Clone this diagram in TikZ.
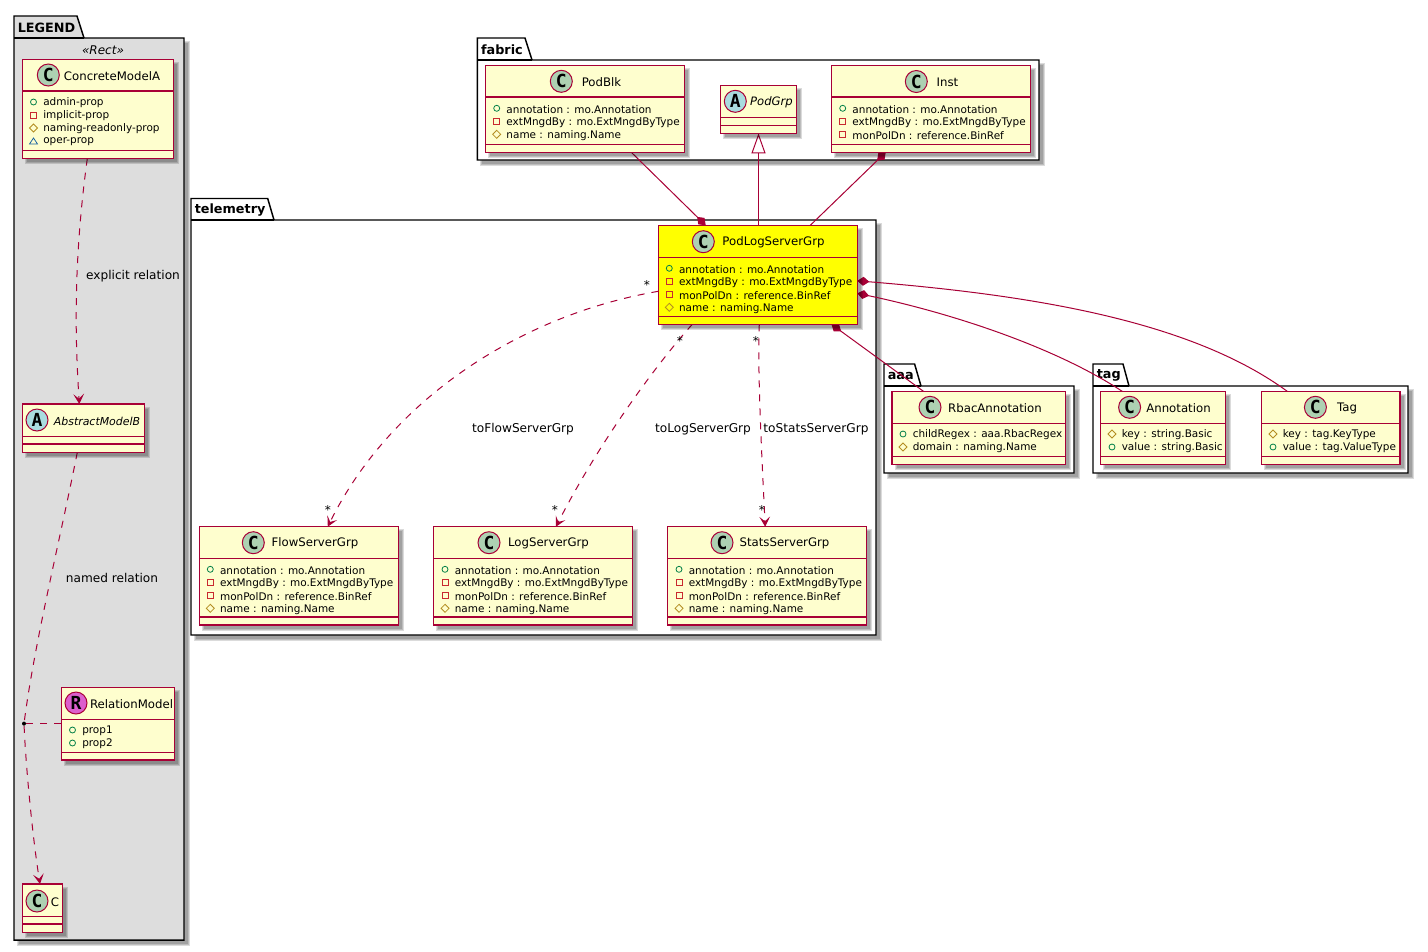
\documentclass[tikz,border=0pt]{standalone}
\usepackage{fontspec}
\setmainfont{DejaVu Sans}
\newfontfamily\spotfont{DejaVu Sans Mono}
\usetikzlibrary{arrows.meta,calc}
\pgfdeclarelayer{bg}\pgfdeclarelayer{conn}\pgfsetlayers{bg,conn,main}
\definecolor{umlline}{HTML}{A80036}
\definecolor{umlfill}{HTML}{FEFECE}
\definecolor{legendgray}{HTML}{DDDDDD}
\definecolor{hiyellow}{HTML}{FFFF00}
\definecolor{spotc}{HTML}{ADD1B2}
\definecolor{spota}{HTML}{A9DCDF}
\definecolor{spotr}{HTML}{DC5FCD}
\definecolor{icopub}{HTML}{038048}
\definecolor{icopriv}{HTML}{C82930}
\definecolor{icoprot}{HTML}{B38D22}
\definecolor{icopack}{HTML}{1963A0}
\newcounter{tn}
\tikzset{
  x=0.75pt,y=-0.75pt,
  clsbox/.style={draw=umlline,line width=1pt,inner sep=0pt,outer sep=0pt},
  clsline/.style={draw=umlline,line width=1pt},
  spotball/.style={circle,draw=umlline,line width=.75pt,minimum size=16.5pt,inner sep=0pt,font=\spotfont\bfseries\fontsize{13.5}{13.5}\selectfont},
  memtext/.style={anchor=west,inner sep=0pt,yshift=-.7pt,font=\fontsize{7.85}{10}\selectfont},
  ttltext/.style={inner sep=0pt,yshift=-.7pt,font=\fontsize{8.8}{11}\selectfont},
  rellabel/.style={inner sep=0pt,yshift=-1pt,font=\fontsize{9.1}{11}\selectfont},
  pkgtext/.style={anchor=west,inner sep=0pt,yshift=-.5pt,font=\bfseries\fontsize{9.6}{12}\selectfont},
  rel/.style={draw=umlline,line width=.75pt},
  dep/.style={rel,dash pattern=on 5.25pt off 5.25pt},
  openhead/.style={-{Stealth[length=7.5pt,width=8pt,inset=3.5pt,umlline]}},
  comp/.style={{Diamond[length=9pt,width=6.75pt,umlline]}-},
}
\newcommand{\softshadow}[4]{%
  \foreach \d in {1.5,.5,-.5}{\fill[black,opacity=.14] ({#1+4-\d},{#2+4-\d}) rectangle ({#3+4+\d},{#4+4+\d});}}
% id x1 y1 x2 y2 d1 d2 fill
\newcommand{\umlclass}[8]{%
  \softshadow{#2}{#3}{#4}{#5}
  \node[clsbox,fill=#8,minimum width={(#4-#2)*0.75pt},minimum height={(#5-#3)*0.75pt}] (#1) at ({(#2+#4)/2},{(#3+#5)/2}) {};
  \draw[clsline] (#2,#6) -- (#4,#6) (#2,#7) -- (#4,#7);}
\newcommand{\spot}[4]{\stepcounter{tn}\node[spotball,fill=#4] (s\arabic{tn}) at (#1,#2) {#3};}
\newcommand{\ttl}[4][]{\stepcounter{tn}\node[ttltext,#1] (t\arabic{tn}) at (#2,#3) {#4};}
\newcommand{\lbl}[3]{\stepcounter{tn}\node[rellabel] (l\arabic{tn}) at (#1,#2) {#3};}
\newcommand{\icopub}[2]{\draw[icopub,line width=.6pt] (#1,{#2}) circle (3);}
\newcommand{\icopriv}[2]{\draw[icopriv,line width=.6pt] ({#1-3},{#2-3}) rectangle ({#1+3},{#2+3});}
\newcommand{\icoprot}[2]{\draw[icoprot,line width=.6pt] ({#1-4},{#2}) -- (#1,{#2-4}) -- ({#1+4},{#2}) -- (#1,{#2+4}) -- cycle;}
\newcommand{\icopack}[2]{\draw[icopack,line width=.6pt] ({#1-4},{#2+3}) -- (#1,{#2-3}) -- ({#1+4},{#2+3}) -- cycle;}
\newcommand{\mem}[4]{\csname ico#1\endcsname{#2}{#3}\stepcounter{tn}\node[memtext] (m\arabic{tn}) at ({#2+9.5},{#3}) {#4};}
\newcommand{\servermembers}[2]{%
  \mem{pub}{#1}{#2}{annotation : mo.Annotation}
  \mem{priv}{#1}{#2+13}{extMngdBy : mo.ExtMngdByType}
  \mem{priv}{#1}{#2+26}{monPolDn : reference.BinRef}
  \mem{prot}{#1}{#2+39}{name : naming.Name}}
% name x1 ytab ytop x2 y2 tabx slopex fill
\newcommand{\umlpkg}[9]{%
  \begin{pgfonlayer}{bg}
  \softshadow{#2}{#4}{#5}{#6}
  \draw[black,line width=1.1pt,fill=#9] (#2,#4) -- (#2,#3) -- (#7,#3) -- (#8,#4) -- (#5,#4) -- (#5,#6) -- (#2,#6) -- cycle;
  \draw[black,line width=1.1pt] (#2,#4) -- (#8,#4);
  \stepcounter{tn}\node[pkgtext] (p\arabic{tn}) at ({#2+3.5},{(#3+#4)/2}) {#1};
  \end{pgfonlayer}}
\begin{document}
\begin{tikzpicture}
\useasboundingbox (0,0) rectangle (1428,951);
\begin{pgfonlayer}{bg}\fill[white] (0,0) rectangle (1428,951);\end{pgfonlayer}
% packages
\umlpkg{LEGEND}{14}{16}{38}{184}{940}{77}{84}{legendgray}
\umlpkg{fabric}{477.3}{38}{60}{1039}{160}{525}{532}{white}
\umlpkg{telemetry}{191}{198.5}{220}{876}{635}{267.7}{274}{white}
\umlpkg{aaa}{884}{364}{386}{1074}{473}{914.6}{921}{white}
\umlpkg{tag}{1093}{364}{386}{1408}{473}{1123}{1129}{white}
\ttl[font=\itshape\fontsize{9}{11}\selectfont]{103}{49}{«Rect»}
% legend
\umlclass{ConcreteModelA}{22.3}{59.3}{173.7}{158.7}{91}{150.7}{umlfill}
\spot{48.3}{75}{C}{spotc}
\ttl{112}{75}{ConcreteModelA}
\mem{pub}{33.5}{102}{admin-prop}
\mem{priv}{33.5}{115}{implicit-prop}
\mem{prot}{33.5}{128}{naming-readonly-prop}
\mem{pack}{33.5}{141}{oper-prop}
\umlclass{AbstractModelB}{22.3}{404}{144.3}{452.3}{436.3}{444}{umlfill}
\spot{37}{420}{A}{spota}
\ttl[font=\itshape\fontsize{8.2}{11}\selectfont]{97}{420}{AbstractModelB}
\umlclass{RelationModel}{61.3}{687.3}{174.7}{760}{719.7}{752.3}{umlfill}
\spot{76}{703}{R}{spotr}
\ttl{131.5}{703}{RelationModel}
\mem{pub}{72.5}{730}{prop1}
\mem{pub}{72.5}{743}{prop2}
\umlclass{C}{22.3}{884}{62.3}{932.3}{916.3}{924}{umlfill}
\spot{37}{901}{C}{spotc}
\ttl{55}{901}{C}
\node[circle,fill=black,minimum size=3pt,inner sep=0pt] (assoc) at (24,723.6) {};
% fabric
\umlclass{PodBlk}{485.3}{65.3}{684.3}{152.3}{97}{144.3}{umlfill}
\spot{561.3}{81.3}{C}{spotc}
\ttl{601.5}{81.3}{PodBlk}
\mem{pub}{496.7}{108.3}{annotation : mo.Annotation}
\mem{priv}{496.7}{121.3}{extMngdBy : mo.ExtMngdByType}
\mem{prot}{496.7}{134.3}{name : naming.Name}
\umlclass{PodGrp}{720.7}{85.3}{796.3}{133.3}{117.3}{125.3}{umlfill}
\spot{735.3}{101.3}{A}{spota}
\ttl[font=\itshape\fontsize{8.7}{11}\selectfont]{771.5}{101.3}{PodGrp}
\umlclass{Inst}{831.3}{65.3}{1030.7}{152.3}{97}{144.3}{umlfill}
\spot{916.3}{81.5}{C}{spotc}
\ttl{947.5}{81.5}{Inst}
\mem{pub}{842.7}{108.3}{annotation : mo.Annotation}
\mem{priv}{842.7}{121.3}{extMngdBy : mo.ExtMngdByType}
\mem{priv}{842.7}{134.3}{monPolDn : reference.BinRef}
% telemetry
\umlclass{PodLogServerGrp}{658.3}{225.3}{857.3}{324.3}{257.3}{316.7}{hiyellow}
\spot{703.3}{241.7}{C}{spotc}
\ttl{773.5}{241.7}{PodLogServerGrp}
\servermembers{669.3}{268.3}
\umlclass{FlowServerGrp}{199.3}{526.7}{398.3}{625}{558.3}{617}{umlfill}
\spot{253.3}{542.7}{C}{spotc}
\ttl{315}{542.7}{FlowServerGrp}
\servermembers{210.3}{569.3}
\umlclass{LogServerGrp}{433.7}{526.7}{632.7}{625}{558.3}{617}{umlfill}
\spot{489}{542.7}{C}{spotc}
\ttl{548.5}{542.7}{LogServerGrp}
\servermembers{445}{569.3}
\umlclass{StatsServerGrp}{667.7}{526.7}{866.7}{625}{558.3}{617}{umlfill}
\spot{722}{542.7}{C}{spotc}
\ttl{784.5}{542.7}{StatsServerGrp}
\servermembers{679}{569.3}
% aaa, tag
\umlclass{RbacAnnotation}{892}{391.7}{1065.5}{464.3}{423.7}{456.7}{umlfill}
\spot{930}{407.3}{C}{spotc}
\ttl{995}{407.3}{RbacAnnotation}
\mem{pub}{903}{434}{childRegex : aaa.RbacRegex}
\mem{prot}{903}{447}{domain : naming.Name}
\umlclass{Annotation}{1100.8}{391.7}{1225.7}{464.3}{423.7}{456.7}{umlfill}
\spot{1129.6}{407.3}{C}{spotc}
\ttl{1178.5}{407.3}{Annotation}
\mem{prot}{1112}{434}{key : string.Basic}
\mem{pub}{1112}{447}{value : string.Basic}
\umlclass{Tag}{1261.8}{391.7}{1400}{464.3}{423.7}{456.7}{umlfill}
\spot{1315.4}{407.3}{C}{spotc}
\ttl{1347}{407.3}{Tag}
\mem{prot}{1273}{434}{key : tag.KeyType}
\mem{pub}{1273}{447}{value : tag.ValueType}
% labels
\lbl{133}{275}{explicit relation}
\lbl{112}{576.5}{named relation}
\lbl{523}{428}{toFlowServerGrp}
\lbl{703}{428}{toLogServerGrp}
\lbl{816}{428}{toStatsServerGrp}
\lbl{647}{283.5}{*}\lbl{680}{339.5}{*}\lbl{756}{339.5}{*}
\lbl{328}{508.5}{*}\lbl{555}{508.5}{*}\lbl{762}{508.5}{*}
% connectors
\begin{pgfonlayer}{conn}
\draw[dep,openhead] ([shift={(65,0)}]ConcreteModelA.south west) .. controls (72,270) and (76,350) .. ([shift={(57,0)}]AbstractModelB.north west);
\draw[dep] ([shift={(55,0)}]AbstractModelB.south west) .. controls (60,540) and (35,640) .. (assoc);
\draw[dep,openhead] (assoc) .. controls (26,770) and (33,840) .. ([shift={(17.7,0)}]C.north west);
\draw[dep] (assoc) -- (RelationModel.west |- assoc);
\draw[rel,comp] ([shift={(47.4,0)}]PodLogServerGrp.north west) -- ([shift={(146,0)}]PodBlk.south west);
\draw[rel,{Triangle[open,length=15pt,width=10.5pt,fill=white,umlline]}-] (PodGrp.south) -- (PodGrp.south |- PodLogServerGrp.north);
\draw[rel,comp] ([shift={(54.4,0)}]Inst.south west) -- ([shift={(152,0)}]PodLogServerGrp.north west);
\draw[dep,openhead] ([shift={(0,66)}]PodLogServerGrp.north west) .. controls (520,315) and (390,400) .. ([shift={(128.5,0)}]FlowServerGrp.north west);
\draw[dep,openhead] ([shift={(34,0)}]PodLogServerGrp.south west) .. controls (660,360) and (600,440) .. ([shift={(122.3,0)}]LogServerGrp.north west);
\draw[dep,openhead] ([shift={(101,0)}]PodLogServerGrp.south west) .. controls (757,370) and (763,480) .. ([shift={(97.5,0)}]StatsServerGrp.north west);
\draw[rel,comp] ([shift={(173.2,0)}]PodLogServerGrp.south west) -- ([shift={(32,0)}]RbacAnnotation.north west);
\draw[rel,comp] ([shift={(0,68)}]PodLogServerGrp.north east) .. controls (960,315) and (1060,350) .. ([shift={(22,0)}]Annotation.north west);
\draw[rel,comp] ([shift={(0,55.5)}]PodLogServerGrp.north east) .. controls (1030,295) and (1190,320) .. ([shift={(26,0)}]Tag.north west);
\end{pgfonlayer}
\end{tikzpicture}
\end{document}
